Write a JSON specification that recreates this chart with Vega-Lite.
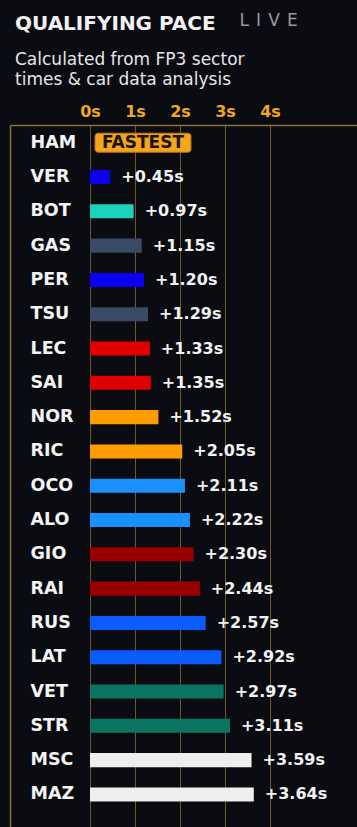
{
  "$schema": "https://vega.github.io/schema/vega-lite/v6.json",
  "width": 347,
  "height": 702,
  "autosize": {"type": "none"},
  "padding": {"left": 10, "top": 125, "right": 0, "bottom": 0},
  "background": "#0a0c12",
  "config": {"view": {"stroke": null}},
  "title": {
    "text": "QUALIFYING PACE",
    "subtitle": ["Calculated from FP3 sector", "times & car data analysis"],
    "anchor": "start",
    "dx": 5,
    "offset": -77,
    "font": "DejaVu Sans",
    "fontSize": 20,
    "fontWeight": "bold",
    "color": "#f2f2f2",
    "subtitleFont": "DejaVu Sans",
    "subtitleFontSize": 17,
    "subtitleColor": "#e6e6e6",
    "subtitleLineHeight": 20,
    "subtitlePadding": 18
  },
  "data": {
    "values": [
      {"driver": "HAM", "team": "Mercedes", "gap": 0},
      {"driver": "VER", "team": "Red Bull", "gap": 0.45},
      {"driver": "BOT", "team": "Mercedes", "gap": 0.97},
      {"driver": "GAS", "team": "AlphaTauri", "gap": 1.15},
      {"driver": "PER", "team": "Red Bull", "gap": 1.20},
      {"driver": "TSU", "team": "AlphaTauri", "gap": 1.29},
      {"driver": "LEC", "team": "Ferrari", "gap": 1.33},
      {"driver": "SAI", "team": "Ferrari", "gap": 1.35},
      {"driver": "NOR", "team": "McLaren", "gap": 1.52},
      {"driver": "RIC", "team": "McLaren", "gap": 2.05},
      {"driver": "OCO", "team": "Alpine", "gap": 2.11},
      {"driver": "ALO", "team": "Alpine", "gap": 2.22},
      {"driver": "GIO", "team": "Alfa Romeo", "gap": 2.30},
      {"driver": "RAI", "team": "Alfa Romeo", "gap": 2.44},
      {"driver": "RUS", "team": "Williams", "gap": 2.57},
      {"driver": "LAT", "team": "Williams", "gap": 2.92},
      {"driver": "VET", "team": "Aston Martin", "gap": 2.97},
      {"driver": "STR", "team": "Aston Martin", "gap": 3.11},
      {"driver": "MSC", "team": "Haas", "gap": 3.59},
      {"driver": "MAZ", "team": "Haas", "gap": 3.64}
    ]
  },
  "transform": [
    {"calculate": "'+' + format(datum.gap, '.2f') + 's'", "as": "label"}
  ],
  "encoding": {
    "y": {
      "field": "driver",
      "type": "nominal",
      "sort": null,
      "scale": {
        "domain": ["HAM", "VER", "BOT", "GAS", "PER", "TSU", "LEC", "SAI", "NOR", "RIC", "OCO", "ALO", "GIO", "RAI", "RUS", "LAT", "VET", "STR", "MSC", "MAZ"],
        "paddingInner": 0.59, "paddingOuter": 0.528, "align": 0.295
      },
      "axis": {
        "title": null,
        "orient": "left",
        "ticks": false,
        "domain": true,
        "domainColor": "#8c6f3e",
        "domainWidth": 1.5,
        "labelAlign": "left",
        "labelPadding": -20,
        "labelFont": "DejaVu Sans",
        "labelFontSize": 17.5,
        "labelFontWeight": "bold",
        "labelColor": "#f4f4f4",
        "labelBaseline": "middle"
      }
    }
  },
  "layer": [
    {
      "transform": [{"filter": "datum.gap > 0"}],
      "mark": {"type": "bar"},
      "encoding": {
        "x": {
          "field": "gap",
          "type": "quantitative",
          "scale": {"domain": [-1.7778, 5.9333], "nice": false, "zero": false},
          "axis": {
            "orient": "top",
            "values": [0, 1, 2, 3, 4],
            "labelExpr": "datum.value + 's'",
            "ticks": false,
            "labelPadding": 9,
            "labelBaseline": "alphabetic",
            "labelFont": "DejaVu Sans",
            "labelFontSize": 16,
            "labelFontWeight": "bold",
            "labelColor": "#f0a81c",
            "labelFlush": false,
            "labelOverlap": false,
            "grid": true,
            "gridColor": "#6b5a2a",
            "gridWidth": 1,
            "domain": true,
            "domainColor": "#8c6f3e",
            "domainWidth": 1.5,
            "title": "L\u00a0\u200aI\u00a0\u200aV\u00a0\u200aE",
            "titleX": 229,
            "titleY": -100,
            "titleAlign": "left",
            "titleBaseline": "alphabetic",
            "titleAngle": 0,
            "titleFont": "DejaVu Sans",
            "titleFontSize": 17,
            "titleFontWeight": "normal",
            "titleColor": "#9a9a9a"
          }
        },
        "x2": {"datum": 0},
        "color": {
          "field": "team",
          "type": "nominal",
          "legend": null,
          "scale": {
            "domain": ["Red Bull", "Mercedes", "AlphaTauri", "Ferrari", "McLaren", "Alpine", "Alfa Romeo", "Williams", "Aston Martin", "Haas"],
            "range": ["#0a00ee", "#19d3bd", "#3a4a66", "#e00000", "#ff9d00", "#1a90ff", "#9b0000", "#0a5cff", "#0b7563", "#eeeeee"]
          }
        }
      }
    },
    {
      "transform": [{"filter": "datum.gap > 0"}],
      "mark": {"type": "text", "align": "left", "baseline": "middle", "dx": 11, "font": "DejaVu Sans", "fontSize": 16, "fontWeight": "bold", "color": "#f2f2f2"},
      "encoding": {
        "x": {"field": "gap", "type": "quantitative"},
        "text": {"field": "label", "type": "nominal"}
      }
    },
    {
      "transform": [{"filter": "datum.driver == 'HAM'"}],
      "mark": {"type": "bar", "height": 19, "cornerRadius": 3, "color": "#f5a51c", "stroke": "#b87410", "strokeWidth": 1},
      "encoding": {
        "x": {"datum": 0.111, "type": "quantitative"},
        "x2": {"datum": 2.244}
      }
    },
    {
      "transform": [{"filter": "datum.driver == 'HAM'"}],
      "mark": {"type": "text", "align": "center", "baseline": "middle", "font": "DejaVu Sans", "fontSize": 17, "fontWeight": "bold", "color": "#1a1206"},
      "encoding": {
        "x": {"datum": 1.178, "type": "quantitative"},
        "text": {"value": "FASTEST"}
      }
    }
  ]
}
